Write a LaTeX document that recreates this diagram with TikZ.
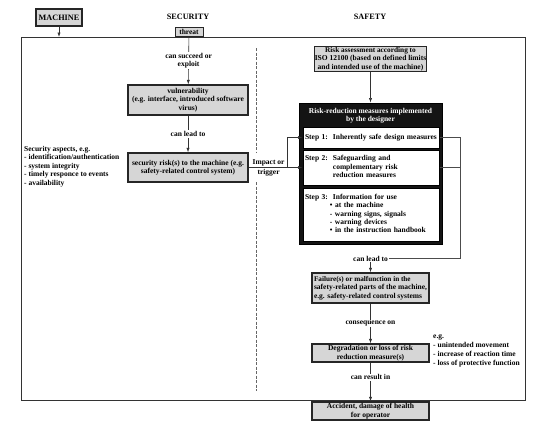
\documentclass[tikz,border=0pt]{standalone}
\usepackage{fontspec}
\setmainfont{Liberation Serif}
\usetikzlibrary{arrows.meta}
\begin{document}
\begin{tikzpicture}[x=1pt,y=-1pt,
  every node/.style={font=\fontsize{7.5}{8.4}\selectfont\bfseries, inner sep=1pt},
  gbox/.style={draw=black!85, line width=1.3pt, fill=black!16, align=center, inner sep=0pt},
  stepbox/.style={draw=black, line width=1pt, fill=white, text width=132, align=left, inner xsep=2pt, inner ysep=0pt},
  arr/.style={-{Latex[length=4.5pt,width=3.2pt]}, line width=0.6pt, draw=black!80},
  ln/.style={line width=0.6pt, draw=black!70},
  lbl/.style={fill=white, inner sep=1pt, align=center},
  title/.style={font=\fontsize{8.2}{9}\selectfont\bfseries},
]
\useasboundingbox (0,0) rectangle (540,426);

% frame
\draw[line width=1pt, draw=black!80] (21,37) rectangle (525,400);

% titles
\node[gbox, minimum width=46, minimum height=17, title] (machine) at (59,17.5) {MACHINE};
\node[title] (sec) at (188,17) {SECURITY};
\node[title] (saf) at (370,17) {SAFETY};
\coordinate (mtop) at (59,37);
\draw[arr] (machine) -- (mtop);

% security column
\node[gbox, line width=1pt, minimum width=28, minimum height=8.5] (threat) at (189,32) {threat};
\node[gbox, minimum width=120, minimum height=30] (vuln) at (188,100) {vulnerability\\(e.g. interface, introduced software\\virus)};
\node[gbox, minimum width=120, minimum height=29] (risk) at (188,167.5) {security risk(s) to the machine (e.g.\\safety-related control system)};
\draw[arr] (threat) -- node[lbl]{can succeed or\\exploit} (vuln);
\draw[arr] (vuln) -- node[lbl]{can lead to} (risk);

\node[anchor=north west, align=left] (asp) at (23,145) {Security aspects, e.g.\\- identification/authentication\\- system integrity\\- timely responce to events\\- availability};

% divider
\draw[dashed, dash pattern=on 3pt off 1.5pt, line width=0.7pt, draw=black!60] (256,48) -- (256,153);
\draw[dashed, dash pattern=on 3pt off 1.5pt, line width=0.7pt, draw=black!60] (256,182) -- (256,391);

% safety column
\node[gbox, minimum width=111, minimum height=25.5] (ra) at (370.5,59) {\fontsize{7.3}{7.7}\selectfont Risk assessment according to\\ISO 12100 (based on defined limits\\and intended use of the machine)};

\node[draw=black, fill=black!92, line width=0.8pt, minimum width=143, minimum height=141, inner sep=0pt] (black) at (370.5,173.5) {};
\node[text=white, align=center] (hdr) at (370.5,115.5) {Risk-reduction measures implemented\\by the designer};
\node[stepbox, minimum height=21] (step1) at (371,137.5) {\begin{tabular}{@{}l@{\hspace{5pt}}l@{}}Step 1: & Inherently safe design measures\end{tabular}};
\node[stepbox, minimum height=35] (step2) at (371,167.5) {\begin{tabular}{@{}l@{\hspace{5pt}}l@{}}Step 2: & Safeguarding and\\ & complementary risk\\ & reduction measures\end{tabular}};
\node[stepbox, minimum height=53] (step3) at (371,214.5) {\begin{tabular}{@{}l@{\hspace{5pt}}l@{}}Step 3: & Information for use\\ & \hspace*{-3pt}\textbullet\ at the machine\\ & \hspace*{-3pt}- warning signs, signals\\ & \hspace*{-3pt}- warning devices\\ & \hspace*{-3pt}\textbullet\ in the instruction handbook\end{tabular}};

\draw[arr] (ra) -- (black);

% impact or trigger
\draw[arr] (risk.east) -- coordinate[pos=0.72] (br) node[above, pos=0.37]{Impact or} node[below, pos=0.37]{trigger} (step2.west);
\draw[arr] (br) |- (step1.west);

% right loop
\node (canlead) at (370.5,258.5) {can lead to};
\coordinate (loopR) at (460,258.5);
\draw[ln] (step1.east) -| (loopR) -- (canlead.east);
\draw[ln] (step2.east) -- (step2.east -| loopR);

\node[gbox, minimum width=117, minimum height=30, align=left] (fail) at (370.5,288) {\fontsize{7.2}{8.4}\selectfont Failure(s) or malfunction in the\\safety-related parts of the machine,\\e.g. safety-related control systems};
\node[gbox, minimum width=117, minimum height=18] (degr) at (370.5,353) {Degradation or loss of risk\\reduction measure(s)};
\node[gbox, minimum width=117, minimum height=18] (acc) at (370.5,411) {Accident, damage of health\\for operator};

\draw[arr] (canlead) -- (fail);
\draw[arr] (fail) -- node[lbl]{consequence on} (degr);
\draw[arr] (degr) -- node[lbl, pos=0.38]{can result in} (acc);

\node[anchor=north west, align=left, font=\fontsize{7.5}{9}\selectfont\bfseries] (eg) at (432,333.5) {e.g.\\- unintended movement\\- increase of reaction time\\- loss of protective function};
\end{tikzpicture}
\end{document}
